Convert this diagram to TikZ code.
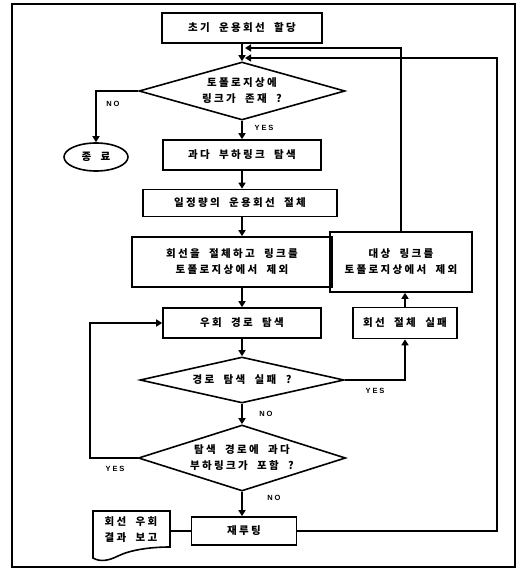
\documentclass[tikz,border=0pt]{standalone}
\usepackage{fontspec}
\usetikzlibrary{shapes.geometric,arrows.meta}
\newfontfamily\kr{Noto Sans CJK KR}[LetterSpace=22,WordSpace=2]
\newfontfamily\lab{Liberation Sans}[LetterSpace=25]
\begin{document}
\begin{tikzpicture}[x=1pt,y=-1pt,
  ln/.style={line width=1.6pt},
  box/.style={ln, draw, rectangle, inner sep=0pt, align=center, font=\kr\bfseries\fontsize{10.5}{16}\selectfont},
  dia/.style={ln, draw, diamond, inner sep=0pt, aspect=4, align=center, font=\kr\bfseries\fontsize{10.5}{16}\selectfont},
  arr/.style={ln, -{Triangle[width=7pt,length=6pt]}},
  yn/.style={font=\lab\bfseries\fontsize{7.5}{9}\selectfont, inner sep=0pt}]
\useasboundingbox (0,0) rectangle (522,572);
\draw[ln] (12,4) rectangle (515,567);

\node[box, minimum width=160pt, minimum height=30pt] (b1) at (242,28) {초기 운용회선 할당};
\node[dia, minimum width=206pt, minimum height=58pt] (d1) at (242,91) {토폴로지상에\\링크가 존재 ?};
\node[ln, draw, ellipse, minimum width=64pt, minimum height=28pt, inner sep=0pt, font=\kr\bfseries\fontsize{10.5}{12}\selectfont] (end) at (96,157) {종 료};
\node[box, minimum width=158pt, minimum height=30pt] (b2) at (242,155) {과다 부하링크 탐색};
\node[box, minimum width=194pt, minimum height=27pt] (b3) at (240,203) {일정량의 운용회선 절체};
\node[box, minimum width=200pt, minimum height=50pt] (b4) at (232,262) {회선을 절체하고 링크를\\토폴로지상에서 제외};
\node[box, minimum width=158pt, minimum height=30pt] (b5) at (242,323) {우회 경로 탐색};
\node[dia, minimum width=204pt, minimum height=46pt] (d2) at (242,380) {경로 탐색 실패 ?};
\node[dia, minimum width=202pt, minimum height=66pt] (d3) at (242,458) {탐색 경로에 과다\\부하링크가 포함 ?};
\node[box, minimum width=105pt, minimum height=28pt] (rr) at (244,531) {재루팅};
\node[box, minimum width=104pt, minimum height=31pt] (rf) at (405,323) {회선 절체 실패};
\node[box, minimum width=142pt, minimum height=60pt] (rb) at (401,262) {대상 링크를\\토폴로지상에서 제외};

% document shape
\draw[ln] (93,511) -- (170,511) -- (170,547) .. controls (150,547) and (130,550) .. (118,556) .. controls (108,561) and (100,562) .. (93,558) -- cycle;
\node[font=\kr\bfseries\fontsize{10.5}{16}\selectfont, align=left, inner sep=0pt] (doc) at (131,530) {회선 우회\\결과 보고};
\coordinate (docR) at (170,531);

\coordinate (in1) at (245,48);
\coordinate (in2) at (245,58);
\coordinate (cR) at (497,531);
\coordinate (cL) at (90,458);

\draw[arr] (b1.south) -- (d1.north);
\draw[arr] (d1.south) -- (b2.north);
\draw[arr] (b2.south) -- (b2.south |- b3.north);
\draw[arr] (b3.south -| b2.south) -- (b2.south |- b4.north);
\draw[arr] (b4.south -| b2.south) -- (b5.north);
\draw[arr] (b5.south) -- (d2.north);
\draw[arr] (d2.south) -- (d3.north);
\draw[arr] (d3.south) -- (rr.north -| d3.south);
\draw[arr] (d1.west) -| (end.north);
\draw[arr] (d2.east) -| (rf.south);
\draw[arr] (rf.north) -- (rf.north |- rb.south);
\draw[arr] (rb.north) |- (in1);
\draw[arr] (rr.east) -- (cR) |- (in2);
\draw[arr] (d3.west) -- (cL) |- (b5.west);
\draw[ln] (docR) -- (rr.west);

\node[yn] (l1) at (113,104) {NO};
\node[yn] (l2) at (264,128) {YES};
\node[yn] (l3) at (375,391) {YES};
\node[yn] (l4) at (266,414) {NO};
\node[yn] (l5) at (115,469) {YES};
\node[yn] (l6) at (274,498) {NO};
\end{tikzpicture}
\end{document}
